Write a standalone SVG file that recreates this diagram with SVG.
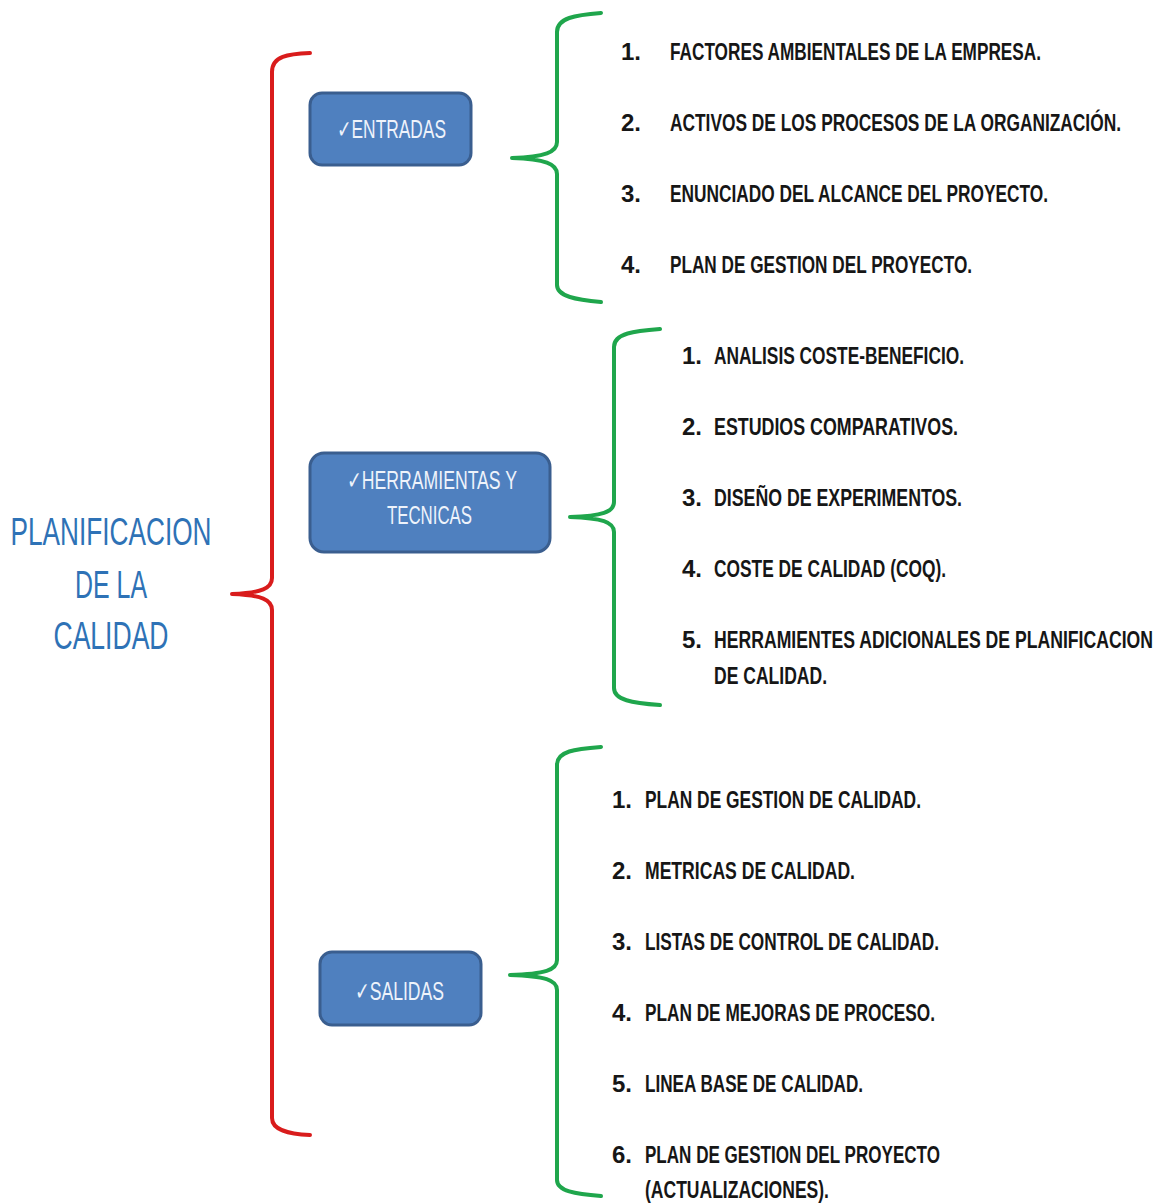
<svg xmlns="http://www.w3.org/2000/svg" width="1161" height="1203" viewBox="0 0 1161 1203">
<style>
.item{font-family:"Liberation Sans Narrow","Liberation Sans",Arial,sans-serif;font-weight:bold;font-size:24px;fill:#161616}
.num{font-family:"Liberation Sans Narrow","Liberation Sans",Arial,sans-serif;font-weight:bold;font-size:24px;fill:#161616}
.box{fill:#4f80bf;stroke:#3a5e8f;stroke-width:3}
.btxt{font-family:"Liberation Sans Narrow","Liberation Sans","DejaVu Sans",sans-serif;font-size:25px;fill:#eef3fb}
.title{font-family:"Liberation Sans Narrow","Liberation Sans",Arial,sans-serif;font-size:38px;fill:#2e72b6;text-anchor:middle}
.red{fill:none;stroke:#d91c1c;stroke-width:4;stroke-linecap:round;stroke-linejoin:round}
.green{fill:none;stroke:#1fa64c;stroke-width:4;stroke-linecap:round;stroke-linejoin:round}
</style>
<rect width="1161" height="1203" fill="#ffffff"/>
<g id="connectors">
<path class="red" d="M310,53 C288,54 272,56 272,72 L272,578 C272,588 262,593 232,594 C262,595 272,600 272,610 L272,1118 C272,1130 288,1134 310,1135"/>
<path class="green" d="M601,13 C575,15 557,18 557,32 L557,142 C557,152 545,157 512,158 C545,159 557,164 557,174 L557,285 C557,296 575,300 601,302"/>
<path class="green" d="M660,329 C635,331 614,333 614,347 L614,502 C614,512 602,516 570,517 C602,518 614,522 614,532 L614,688 C614,700 632,703 660,705"/>
<path class="green" d="M601,747 C575,749 557,751 557,765 L557,960 C557,970 545,974 510,975 C545,976 557,980 557,990 L557,1180 C557,1191 575,1194 601,1196"/>
</g>
<g id="title">
<text class="title" x="111" y="545" textLength="201" lengthAdjust="spacingAndGlyphs">PLANIFICACION</text>
<text class="title" x="111" y="598" textLength="72" lengthAdjust="spacingAndGlyphs">DE LA</text>
<text class="title" x="111" y="649" textLength="115" lengthAdjust="spacingAndGlyphs">CALIDAD</text>
</g>
<g id="node-entradas">
<rect class="box" x="310" y="93" width="161" height="72" rx="12"/>
<text class="btxt" x="337" y="138" textLength="109" lengthAdjust="spacingAndGlyphs">✓ENTRADAS</text>
</g>
<g id="node-herramientas">
<rect class="box" x="310" y="453" width="240" height="99" rx="14"/>
<text class="btxt" x="347" y="489" textLength="170" lengthAdjust="spacingAndGlyphs">✓HERRAMIENTAS Y</text>
<text class="btxt" x="387" y="524" textLength="85" lengthAdjust="spacingAndGlyphs">TECNICAS</text>
</g>
<g id="node-salidas">
<rect class="box" x="320" y="952" width="161" height="73" rx="12"/>
<text class="btxt" x="355" y="1000" textLength="89" lengthAdjust="spacingAndGlyphs">✓SALIDAS</text>
</g>
<g id="list-entradas">
<text class="num" x="621" y="60">1.</text>
<text class="item" transform="translate(670 60) scale(0.75 1)" x="0" y="0" textLength="494.7" lengthAdjust="spacingAndGlyphs">FACTORES AMBIENTALES DE LA EMPRESA.</text>
<text class="num" x="621" y="131">2.</text>
<text class="item" transform="translate(670 131) scale(0.75 1)" x="0" y="0" textLength="601.3" lengthAdjust="spacingAndGlyphs">ACTIVOS DE LOS PROCESOS DE LA ORGANIZACIÓN.</text>
<text class="num" x="621" y="202">3.</text>
<text class="item" transform="translate(670 202) scale(0.75 1)" x="0" y="0" textLength="504" lengthAdjust="spacingAndGlyphs">ENUNCIADO DEL ALCANCE DEL PROYECTO.</text>
<text class="num" x="621" y="273">4.</text>
<text class="item" transform="translate(670 273) scale(0.75 1)" x="0" y="0" textLength="402.7" lengthAdjust="spacingAndGlyphs">PLAN DE GESTION DEL PROYECTO.</text>
</g>
<g id="list-herramientas">
<text class="num" x="682" y="364">1.</text>
<text class="item" transform="translate(714 364) scale(0.75 1)" x="0" y="0" textLength="333.3" lengthAdjust="spacingAndGlyphs">ANALISIS COSTE-BENEFICIO.</text>
<text class="num" x="682" y="435">2.</text>
<text class="item" transform="translate(714 435) scale(0.75 1)" x="0" y="0" textLength="325.3" lengthAdjust="spacingAndGlyphs">ESTUDIOS COMPARATIVOS.</text>
<text class="num" x="682" y="506">3.</text>
<text class="item" transform="translate(714 506) scale(0.75 1)" x="0" y="0" textLength="330.7" lengthAdjust="spacingAndGlyphs">DISEÑO DE EXPERIMENTOS.</text>
<text class="num" x="682" y="577">4.</text>
<text class="item" transform="translate(714 577) scale(0.75 1)" x="0" y="0" textLength="309.3" lengthAdjust="spacingAndGlyphs">COSTE DE CALIDAD (COQ).</text>
<text class="num" x="682" y="648">5.</text>
<text class="item" transform="translate(714 648) scale(0.75 1)" x="0" y="0" textLength="585.3" lengthAdjust="spacingAndGlyphs">HERRAMIENTES ADICIONALES DE PLANIFICACION</text>
<text class="item" transform="translate(714 684) scale(0.75 1)" x="0" y="0" textLength="150.7" lengthAdjust="spacingAndGlyphs">DE CALIDAD.</text>
</g>
<g id="list-salidas">
<text class="num" x="612" y="808">1.</text>
<text class="item" transform="translate(645 808) scale(0.75 1)" x="0" y="0" textLength="368" lengthAdjust="spacingAndGlyphs">PLAN DE GESTION DE CALIDAD.</text>
<text class="num" x="612" y="879">2.</text>
<text class="item" transform="translate(645 879) scale(0.75 1)" x="0" y="0" textLength="280" lengthAdjust="spacingAndGlyphs">METRICAS DE CALIDAD.</text>
<text class="num" x="612" y="950">3.</text>
<text class="item" transform="translate(645 950) scale(0.75 1)" x="0" y="0" textLength="392" lengthAdjust="spacingAndGlyphs">LISTAS DE CONTROL DE CALIDAD.</text>
<text class="num" x="612" y="1021">4.</text>
<text class="item" transform="translate(645 1021) scale(0.75 1)" x="0" y="0" textLength="386.7" lengthAdjust="spacingAndGlyphs">PLAN DE MEJORAS DE PROCESO.</text>
<text class="num" x="612" y="1092">5.</text>
<text class="item" transform="translate(645 1092) scale(0.75 1)" x="0" y="0" textLength="290.7" lengthAdjust="spacingAndGlyphs">LINEA BASE DE CALIDAD.</text>
<text class="num" x="612" y="1163">6.</text>
<text class="item" transform="translate(645 1163) scale(0.75 1)" x="0" y="0" textLength="393.3" lengthAdjust="spacingAndGlyphs">PLAN DE GESTION DEL PROYECTO</text>
<text class="item" transform="translate(645 1198) scale(0.75 1)" x="0" y="0" textLength="245.3" lengthAdjust="spacingAndGlyphs">(ACTUALIZACIONES).</text>
</g>
</svg>
